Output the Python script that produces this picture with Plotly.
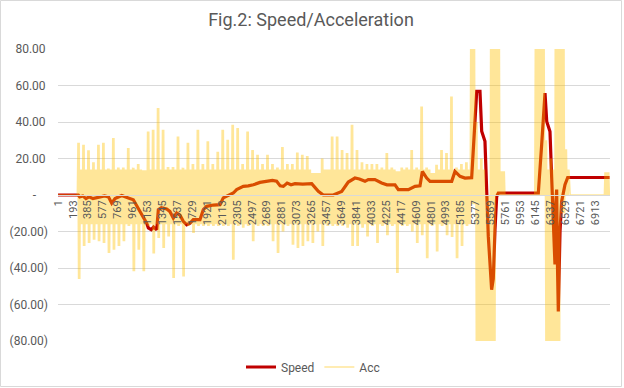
import plotly.graph_objects as go

# ---- data ----
speed_idx = [1, 262, 280, 320, 360, 400, 450, 520, 600, 650, 692, 735, 821, 906, 970, 1056,
             1142, 1163, 1200, 1230, 1271, 1292, 1330, 1399, 1440, 1485, 1528, 1570, 1613,
             1657, 1700, 1742, 1828, 1871, 1914, 2000, 2086, 2128, 2200, 2257, 2300, 2386,
             2450, 2515, 2600, 2687, 2760, 2815, 2860, 2901, 2950, 3000, 3051, 3150, 3266,
             3351, 3415, 3544, 3652, 3737, 3823, 3880, 3952, 3994, 4080, 4166, 4235, 4338,
             4381, 4510, 4596, 4660, 4690, 4746, 4789, 5068, 5110, 5175, 5239, 5325, 5346,
             5390, 5432, 5445, 5454, 5496, 5524, 5539, 5582, 5603, 5625, 5647, 5668, 6183,
             6226, 6269, 6291, 6333, 6355, 6376, 6397, 6408, 6419, 6430, 6440, 6462, 6483,
             6526, 6561, 7100]
speed_val = [0, 0, -1, -0.5, -2, -1, -2, -1.5, -0.5, -1, -4.5, -2, -0.3, -1.7, -2.6, -9,
             -15.4, -18, -19, -17.5, -19, -8, -7, -7.7, -9, -12.6, -9.8, -11, -14.4,
             -16.3, -15.4, -13.5, -13.5, -8, -6.2, -5.5, -5.3, -1.6, 0, 1.1, 3, 4.7,
             5, 5.6, 6.9, 7.5, 8, 7.5, 5, 4.7, 6.5, 5.6, 6.2, 6, 6.2,
             2, 0, 0, 2, 7.1, 9.3, 8.8, 7.5, 8.4, 8.4, 6.6, 5.6, 5.6,
             2.9, 2.9, 4.7, 5, 12.9, 9.3, 7.5, 7.5, 12.9, 10.2, 9.3, 9.5, 27.6,
             56.8, 56.8, 45, 35, 29.4, 0, -22.7, -51.9, -46, -19, -0.8, 1.1, 1.1,
             27.6, 55.9, 40.3, 34.8, 9.3, -19.9, -38, -5, 3, -40, -63.8, -20, -3.5,
             5.6, 9.6, 9.6]

acc_chunk = 64  # samples per chunk of the acceleration envelope
acc_hi = [0, 0, 0, 0,
          28.6, 27.5, 24.5, 18, 27.5, 28.6, 14.5, 31.2, 15, 15,
          25.8, 15, 17, 13.5, 34.8, 35.8, 47.7, 35.8, 15.3, 15.3,
          32, 15, 28.6, 17, 35.8, 17, 29.4, 17, 23.7, 35.8,
          30.3, 38.5, 36.7, 17, 34.8, 24.7, 22, 17, 22, 17,
          15, 26.3, 17, 17, 23.3, 22, 21.4, 12, 12, 20,
          14, 32, 32, 24.7, 23, 38.5, 24.7, 18, 17, 17,
          17, 15, 23, 15, 13, 15, 15, 24.7, 15, 48.5,
          15, 12, 16.6, 24.7, 23, 54, 15, 17, 18, 95,
          40, 20, 0, 95, 95, 13, 0, 0, 0, 0,
          0, 0, 95, 95, 30, 20, 95, 95, 25, 0,
          0, 0, 0, 0, 0, 0, 12.4]
acc_lo = [0, 0, 0, 0,
          -46, -28, -26.3, -24.5, -25.4, -26.3, -31.8, -30, -28, -25.4,
          -17, -41.8, -30, -41.8, -17, -32.1, -23.6, -29.1, -22.7, -45.5,
          -17, -44.6, -17, -20.8, -17, -17, -17, -17, -17, -17,
          -17, -35.5, -17, -18, -17, -25.4, -17, -17, -17, -25.4,
          -31.8, -20, -17, -27.2, -29, -28, -25.4, -26.3, -20, -28,
          -17, -17, -17, -17, -18, -28, -28, -18, -22.7, -17,
          -26.3, -17, -22, -17, -42.8, -17, -17, -20, -26.3, -22,
          -34.6, -17, -30.9, -17, -22, -23, -34.6, -28, -17, -5,
          -95, -95, -95, -95, 0, 0, 0, 0, 0, 0,
          0, 0, 0, 0, -95, -95, -95, -10, 0, 0,
          0, 0, 0, 0, 0, 0, 0]
acc_band_hi = 14    # typical upper level of the dense acceleration band
acc_band_lo = -16   # typical lower level of the dense acceleration band

x_tick_vals = list(range(1, 7000, 192))
x_tick_text = [str(v) for v in x_tick_vals]
y_tick_vals = [-80, -60, -40, -20, 0, 20, 40, 60, 80]
y_tick_text = ["(80.00)", "(60.00)", "(40.00)", "(20.00)", "-\u00a0\u00a0\u00a0\u00a0",
               "20.00\u2009", "40.00\u2009", "60.00\u2009", "80.00\u2009"]

# build the oscillating acceleration trace: each chunk first swings to its read
# extremes, then keeps swinging inside the typical band
acc_x, acc_y = [], []
q = acc_chunk // 8
for k, (h, l) in enumerate(zip(acc_hi, acc_lo)):
    start = 1 + k * acc_chunk
    bh = h if h >= 80 else min(h, acc_band_hi)
    bl = l if l <= -80 else max(l, acc_band_lo)
    seq = [h, l, h, l, bh, bl, bh, bl]
    for j, v in enumerate(seq):
        acc_x.append(start + j * q)
        acc_y.append(v)

fig = go.Figure()
fig.add_trace(go.Scatter(x=speed_idx, y=speed_val, mode="lines", name="Speed",
                         line=dict(color="#C00000", width=3.2)))
fig.add_trace(go.Scatter(x=acc_x, y=acc_y, mode="lines", name="Acc",
                         line=dict(color="rgba(255,192,0,0.40)", width=1.5)))

W, H = 624, 388
ml, mr, mt, mb = 58, 14, 49, 47
pw, ph = W - ml - mr, H - mt - mb

def px_x(p):
    return (p - ml) / pw

def px_y(p):
    return (H - mb - p) / ph

fig.update_layout(
    width=W, height=H,
    margin=dict(l=ml, r=mr, t=mt, b=mb, autoexpand=False),
    paper_bgcolor="white", plot_bgcolor="white",
    font=dict(family="Roboto, Liberation Sans, sans-serif", size=11, color="#595959"),
    title=dict(text="Fig.2: Speed/Acceleration", x=px_x(311), xanchor="center", xref="paper",
               y=1 - 20 / H, yanchor="middle",
               font=dict(size=18, color="#595959")),
    showlegend=True,
    legend=dict(orientation="h", x=px_x(313), xanchor="center", y=px_y(367), yanchor="middle",
                font=dict(size=12, color="#595959"), bgcolor="rgba(0,0,0,0)",
                itemwidth=30, tracegroupgap=0),
    xaxis=dict(range=[0.5, 7105.5], tickmode="array", tickvals=x_tick_vals,
               ticktext=x_tick_text, tickangle=-90, showgrid=False, zeroline=False,
               showline=True, linecolor="#D9D9D9", linewidth=1, ticks="",
               anchor="free", position=0.5, ticklabeloverflow="allow", automargin=False,
               tickfont=dict(size=11, color="#595959")),
    yaxis=dict(range=[-80, 80], tickmode="array", tickvals=y_tick_vals,
               ticktext=y_tick_text, showgrid=True, gridcolor="#D9D9D9", gridwidth=1,
               zeroline=False, showline=False, ticks="", ticklabelstandoff=9,
               automargin=False, tickfont=dict(size=12, color="#595959")),
    shapes=[dict(type="rect", xref="paper", yref="paper",
                 x0=px_x(0.5), x1=px_x(621.5), y0=px_y(386.5), y1=px_y(0.5),
                 line=dict(color="#D9D9D9", width=1), fillcolor="rgba(0,0,0,0)",
                 layer="below")],
)

fig.write_html("out.html", config={"displayModeBar": False},
               post_script="document.body.style.margin='0';")
